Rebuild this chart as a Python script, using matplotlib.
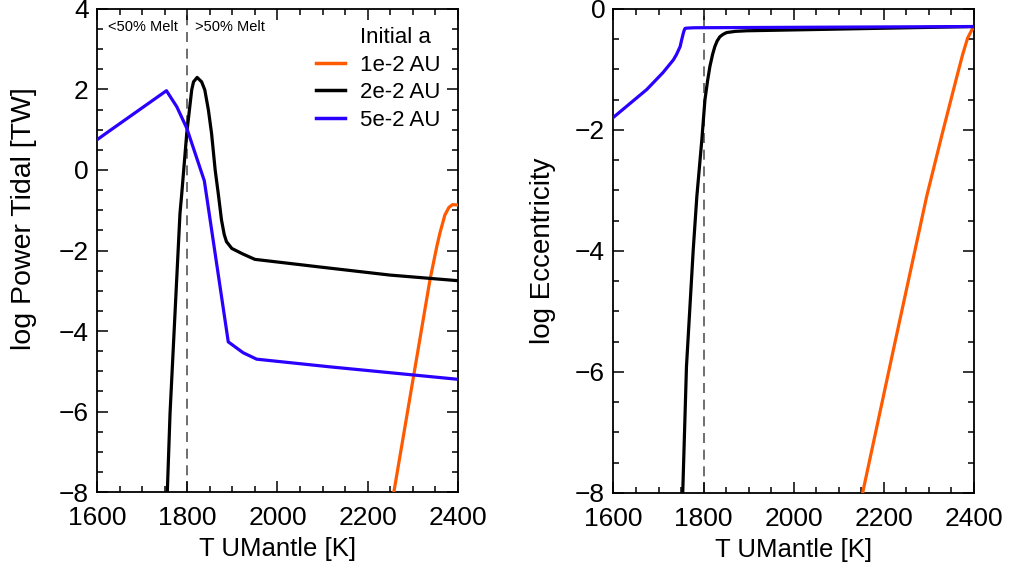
import matplotlib
matplotlib.use("Agg")
import matplotlib.pyplot as plt
from matplotlib.ticker import MultipleLocator
from matplotlib.lines import Line2D

plt.rcParams['font.family'] = ['Liberation Sans', 'DejaVu Sans']

# ---- data: upper-mantle temperature [K] vs log tidal power / log eccentricity ----
labels = ["1e-2 AU", "2e-2 AU", "5e-2 AU"]
colors = ["#ff5a00", "#000000", "#2a00ff"]

# log Power Tidal [TW]
T_pow_1e2 = [2255, 2338, 2353, 2360, 2371, 2380, 2388, 2400]
P_pow_1e2 = [-8.2, -2.73, -1.91, -1.57, -1.12, -0.93, -0.86, -0.87]

T_pow_2e2 = [1755, 1762, 1773, 1784, 1788, 1799, 1810, 1814, 1822, 1832, 1839, 1847,
             1854, 1862, 1869, 1876, 1882, 1887, 1899, 1924, 1950, 2102, 2249, 2400]
P_pow_2e2 = [-8.3, -6.04, -3.56, -1.08, -0.58, 0.91, 1.99, 2.19, 2.30, 2.19, 1.99, 1.49,
             0.91, 0.0, -0.6, -1.24, -1.6, -1.78, -1.95, -2.09, -2.22, -2.42, -2.61, -2.75]

T_pow_5e2 = [1600, 1625, 1754, 1777, 1799, 1838, 1891, 1924, 1954, 2116, 2400]
P_pow_5e2 = [0.75, 0.95, 1.97, 1.57, 1.04, -0.27, -4.27, -4.54, -4.70, -4.89, -5.20]

# log Eccentricity
T_ecc_1e2 = [2150, 2221, 2295, 2330, 2362, 2375, 2386, 2395, 2400]
E_ecc_1e2 = [-8.1, -5.64, -3.10, -2.05, -1.12, -0.75, -0.48, -0.35, -0.30]

T_ecc_2e2 = [1752.5, 1762, 1777, 1785, 1796, 1803, 1809, 1814, 1820, 1825, 1830, 1836,
             1843, 1851, 1870, 1896, 2043, 2400]
E_ecc_2e2 = [-8.3, -5.91, -3.98, -3.10, -2.17, -1.50, -1.18, -0.95, -0.75, -0.62, -0.53,
             -0.46, -0.42, -0.39, -0.37, -0.36, -0.34, -0.29]

T_ecc_5e2 = [1600, 1637, 1674, 1710, 1733, 1740, 1748, 1751, 1755, 1757, 1759, 1765, 1780, 2400]
E_ecc_5e2 = [-1.79, -1.56, -1.33, -1.05, -0.84, -0.75, -0.62, -0.52, -0.40, -0.35, -0.32,
             -0.315, -0.31, -0.29]

T_melt = 1800  # 50% melt fraction boundary

x_ticks = [1600, 1800, 2000, 2200, 2400]

fig = plt.figure(figsize=(10.12, 5.69), dpi=100)
ax1 = fig.add_axes([0.0958, 0.1353, 0.3567, 0.8489])
ax2 = fig.add_axes([0.6062, 0.1336, 0.3562, 0.8506])

lw = 2.3


def style(ax, ylim, yticks):
    ax.set_xlim(1600, 2400)
    ax.set_ylim(*ylim)
    ax.set_xticks(x_ticks)
    ax.set_yticks(yticks)
    ax.xaxis.set_minor_locator(MultipleLocator(50))
    ax.yaxis.set_minor_locator(MultipleLocator(0.5))
    ax.tick_params(which='both', direction='in', top=True, right=True,
                   width=1.1, labelsize=19)
    ax.tick_params(which='major', length=8)
    ax.tick_params(which='minor', length=4)
    ax.tick_params(axis='x', pad=10)
    ax.tick_params(axis='y', pad=6)
    for s in ax.spines.values():
        s.set_linewidth(1.3)
    ax.axvline(T_melt, color='#555555', lw=1.2, ls=(0, (6, 4)), zorder=1)
    ax.set_xlabel("T UMantle [K]", fontsize=18.5, labelpad=5)


# left panel: tidal power
ax1.plot(T_pow_1e2, P_pow_1e2, color=colors[0], lw=lw, zorder=3)
ax1.plot(T_pow_2e2, P_pow_2e2, color=colors[1], lw=lw, zorder=3)
ax1.plot(T_pow_5e2, P_pow_5e2, color=colors[2], lw=lw, zorder=3)
style(ax1, (-8, 4), [4, 2, 0, -2, -4, -6, -8])
ax1.set_ylabel("log Power Tidal [TW]", fontsize=20.5)
ax1.yaxis.set_label_coords(-0.165, 0.565)
ax1.text(1625, 3.55, "<50% Melt", fontsize=10.5, ha='left', va='center')
ax1.text(1817, 3.55, ">50% Melt", fontsize=10.5, ha='left', va='center')

handles = [Line2D([], [], color='none')] + \
          [Line2D([], [], color=c, lw=2.5) for c in colors]
leg = ax1.legend(handles, ["Initial a"] + labels, loc='upper left',
                 bbox_to_anchor=(0.607, 0.962), frameon=False, fontsize=16,
                 handlelength=1.3, handletextpad=0.68, labelspacing=0.29,
                 borderaxespad=0.0, borderpad=0.0)

# right panel: eccentricity
ax2.plot(T_ecc_1e2, E_ecc_1e2, color=colors[0], lw=lw, zorder=3)
ax2.plot(T_ecc_2e2, E_ecc_2e2, color=colors[1], lw=lw, zorder=3)
ax2.plot(T_ecc_5e2, E_ecc_5e2, color=colors[2], lw=lw, zorder=3)
style(ax2, (-8, 0), [0, -2, -4, -6, -8])
ax2.set_ylabel("log Eccentricity", fontsize=20)
ax2.yaxis.set_label_coords(-0.160, 0.5)

fig.savefig("out.png", dpi=100)
